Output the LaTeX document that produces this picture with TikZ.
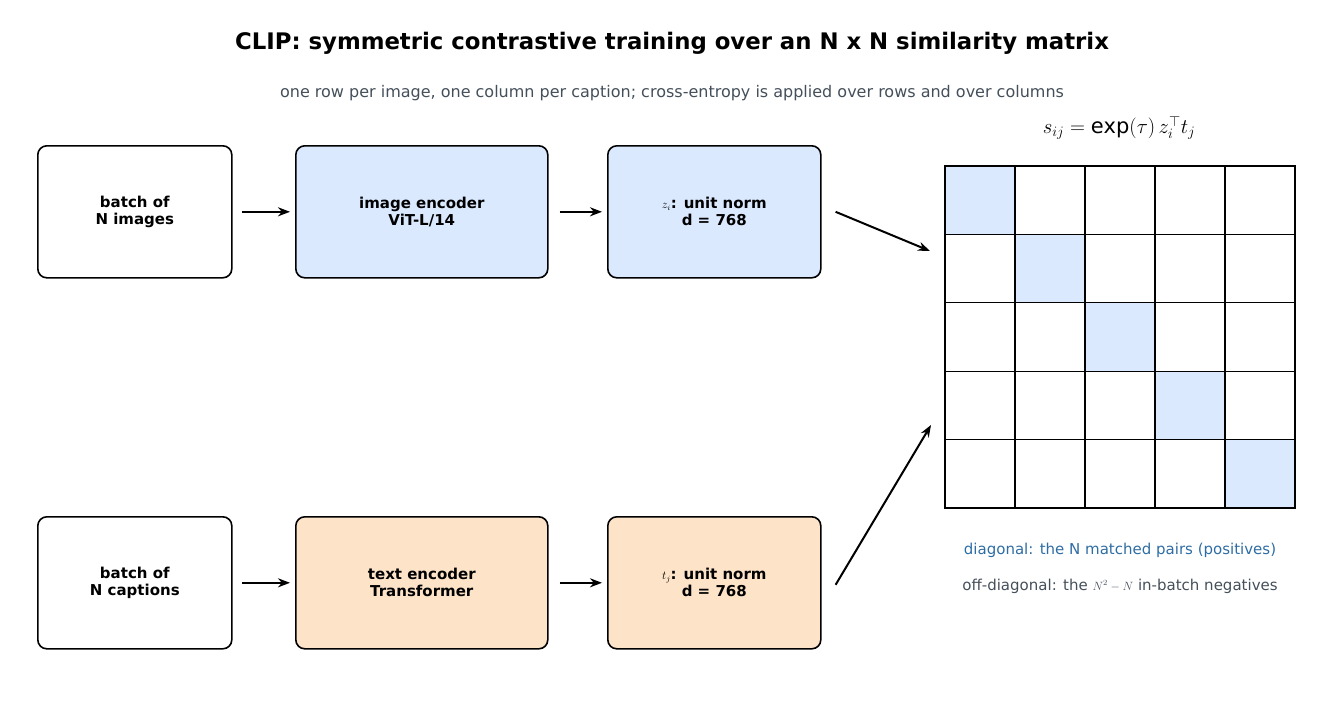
\documentclass[tikz,border=0pt]{standalone}
\usepackage{fontspec}
\setmainfont{DejaVu Sans}
\usetikzlibrary{arrows.meta}
\definecolor{bl}{HTML}{DBE9FE}
\definecolor{or}{HTML}{FDE3C8}
\definecolor{sub}{HTML}{444F5A}
\definecolor{lab}{HTML}{2E6DA4}
\begin{document}
\begin{tikzpicture}[x=1pt,y=-1pt,
 box/.style={draw,line width=1.6pt,rounded corners=9pt,align=center,font=\fontsize{15}{17}\selectfont\bfseries,inner sep=0pt},
 arr/.style={-{Stealth[length=12pt,width=9pt]},line width=2pt},
 cell/.style={draw,line width=1.1pt}]
\useasboundingbox (0,0) rectangle (1344,723);
\node[font=\fontsize{22.8}{26}\selectfont\bfseries] (title) at (672,43) {CLIP: symmetric contrastive training over an N x N similarity matrix};
\node[font=\fontsize{16}{19}\selectfont,text=sub] (subt) at (672,93) {one row per image, one column per caption; cross-entropy is applied over rows and over columns};
\foreach \n/\y in {t/145,b/516}{
 \node[box,minimum width=194pt,minimum height=132pt,anchor=north west] (\n1) at (37,\y) {};
}
\node[box,fill=bl,minimum width=252pt,minimum height=132pt,anchor=north west] (t2) at (295,145) {image encoder\\ViT-L/14};
\node[box,fill=bl,minimum width=213pt,minimum height=132pt,anchor=north west] (t3) at (607,145) {{\large$z_i$}: unit norm\\d = 768};
\node[box,fill=or,minimum width=252pt,minimum height=132pt,anchor=north west] (b2) at (295,516) {text encoder\\Transformer};
\node[box,fill=or,minimum width=213pt,minimum height=132pt,anchor=north west] (b3) at (607,516) {{\large$t_j$}: unit norm\\d = 768};
\node[font=\fontsize{15}{17}\selectfont\bfseries,align=center] at (t1) {batch of\\N images};
\node[font=\fontsize{15}{17}\selectfont\bfseries,align=center] at (b1) {batch of\\N captions};
\foreach \r in {0,...,4}{\foreach \c in {0,...,4}{
 \pgfmathsetmacro{\xx}{945+70*\c}\pgfmathsetmacro{\yy}{166+68.4*\r}
 \ifnum\r=\c \fill[bl] (\xx,\yy) rectangle ++(70,68.4);\fi
 \draw[cell] (\xx,\yy) rectangle ++(70,68.4);}}
\coordinate (mt) at (930,251);
\coordinate (mb) at (931,425);
\node[font=\fontsize{21}{24}\selectfont] (f) at (1119,128) {$s_{ij} = \exp(\tau)\, z_i^{\top} t_j$};
\draw[arr] ([xshift=9pt]t1.east) -- ([xshift=-5pt]t2.west);
\draw[arr] ([xshift=11pt]t2.east) -- ([xshift=-5pt]t3.west);
\draw[arr] ([xshift=9pt]b1.east) -- ([xshift=-5pt]b2.west);
\draw[arr] ([xshift=11pt]b2.east) -- ([xshift=-5pt]b3.west);
\draw[arr] ([xshift=14pt]t3.east) -- (mt);
\draw[arr] ([xshift=14pt,yshift=-2pt]b3.east) -- (mb);
\node[font=\fontsize{15}{18}\selectfont,text=lab] (l1) at (1120,550) {diagonal: the N matched pairs (positives)};
\node[font=\fontsize{15}{18}\selectfont,text=sub] (l2) at (1120,586) {off-diagonal: the {\large$N^2-N$} in-batch negatives};
\end{tikzpicture}
\end{document}
